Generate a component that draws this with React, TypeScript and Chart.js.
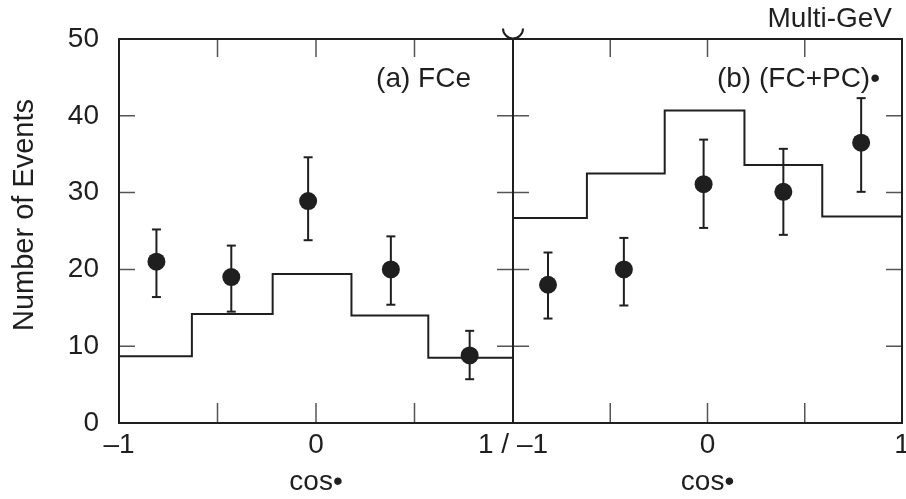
import React, { useEffect, useRef } from "react";
import { Chart, registerables } from "chart.js";

Chart.register(...registerables);

const FONT_FAMILY = '"Liberation Sans", Arial, Helvetica, sans-serif';
const FONT_SIZE = 28;
const Y_TITLE_SIZE = 29;
const INK = "#1f1f1f";
const TICK_INK = "#555555";

// Shared axes
const Y_TICKS = [0, 10, 20, 30, 40, 50];
const X_TICKS = [-1, -0.5, 0, 0.5, 1];
const X_INNER_TICKS = [-0.5, 0, 0.5];
const X_TITLE = "cos•";
const Y_TITLE = "Number of Events";

// Panel (a): FC e-like, Multi-GeV
const A_EDGES = [-1, -0.63, -0.22, 0.18, 0.57, 1];
const A_MC = [8.7, 14.2, 19.4, 14.0, 8.5];
const A_X = [-0.81, -0.43, -0.04, 0.38, 0.78];
const A_DATA = [21.0, 19.0, 28.9, 20.0, 8.8];
const A_LO = [16.4, 14.5, 23.8, 15.4, 5.7];
const A_HI = [25.2, 23.1, 34.6, 24.3, 12.0];
const A_XLABELS: Record<string, string> = { "-1": "–1", "0": "0", "1": "1 / –1" };

// Panel (b): FC+PC mu-like, Multi-GeV
const B_EDGES = [-1, -0.62, -0.22, 0.19, 0.59, 1];
const B_MC = [26.7, 32.5, 40.7, 33.6, 26.9];
const B_X = [-0.82, -0.43, -0.02, 0.39, 0.79];
const B_DATA = [18.0, 20.0, 31.1, 30.1, 36.5];
const B_LO = [13.6, 15.3, 25.4, 24.5, 30.1];
const B_HI = [22.2, 24.1, 36.9, 35.7, 42.3];
const B_XLABELS: Record<string, string> = { "0": "0", "1": "1" };

type TextItem = { t: string; x: number; y: number; align: CanvasTextAlign; rot?: boolean; size?: number };

// Frame, inward tick marks and free-standing labels for one panel
const panelDecor = {
  id: "panelDecor",
  afterDatasetsDraw(chart: any, _args: any, opts: any) {
    const { ctx, chartArea: a, scales } = chart;
    const xs = scales.x;
    const ys = scales.y;
    const off = opts.offsetX || 0;
    ctx.save();

    ctx.strokeStyle = TICK_INK;
    ctx.lineWidth = 1.5;
    ctx.beginPath();
    for (const v of Y_TICKS) {
      const py = ys.getPixelForValue(v);
      ctx.moveTo(a.left, py);
      ctx.lineTo(a.left + 16, py);
      ctx.moveTo(a.right - 16, py);
      ctx.lineTo(a.right, py);
    }
    for (const v of X_INNER_TICKS) {
      const px = xs.getPixelForValue(v);
      ctx.moveTo(px, a.bottom);
      ctx.lineTo(px, a.bottom - 20);
      ctx.moveTo(px, a.top);
      ctx.lineTo(px, a.top + 18);
    }
    ctx.stroke();

    ctx.strokeStyle = INK;
    ctx.lineWidth = 2;
    ctx.strokeRect(a.left, a.top, a.right - a.left, a.bottom - a.top);

    if (opts.arc) {
      ctx.beginPath();
      ctx.arc(opts.arc.x - off, opts.arc.y, opts.arc.r, 0, Math.PI);
      ctx.stroke();
    }

    ctx.fillStyle = INK;
    ctx.textBaseline = "alphabetic";
    for (const item of (opts.texts || []) as TextItem[]) {
      ctx.save();
      ctx.font = `${item.size || FONT_SIZE}px ${FONT_FAMILY}`;
      ctx.translate(item.x - off, item.y);
      if (item.rot) ctx.rotate(-Math.PI / 2);
      ctx.textAlign = item.align;
      ctx.fillText(item.t, 0, 0);
      ctx.restore();
    }
    ctx.restore();
  },
};

function buildConfig(
  edges: number[],
  mc: number[],
  px: number[],
  py: number[],
  lo: number[],
  hi: number[],
  xLabels: Record<string, string>,
  showY: boolean,
  padding: { left: number; right: number; top: number; bottom: number },
  decor: any
): any {
  const histogram = edges.map((x, i) => ({ x, y: mc[Math.min(i, mc.length - 1)] }));
  const points = px.map((x, i) => ({ x, y: py[i] }));
  const errorBars = px.flatMap((x, i) => [
    { x, y: lo[i] },
    { x, y: hi[i] },
    { x, y: null },
  ]);
  const font = { family: FONT_FAMILY, size: FONT_SIZE };

  return {
    type: "line",
    data: {
      datasets: [
        {
          label: "data",
          data: points,
          showLine: false,
          pointStyle: "circle",
          pointRadius: 9,
          pointHoverRadius: 9,
          pointBackgroundColor: INK,
          pointBorderWidth: 0,
        },
        {
          label: "errors",
          data: errorBars,
          borderColor: INK,
          borderWidth: 2,
          spanGaps: false,
          pointStyle: "line",
          pointRadius: 4.5,
          pointHoverRadius: 4.5,
          pointBorderColor: INK,
          pointBorderWidth: 2,
        },
        {
          label: "expected",
          data: histogram,
          stepped: "before",
          borderColor: INK,
          borderWidth: 2,
          pointRadius: 0,
          fill: false,
        },
      ],
    },
    options: {
      responsive: false,
      animation: false,
      events: [],
      layout: { autoPadding: false, padding },
      plugins: {
        legend: { display: false },
        tooltip: { enabled: false },
        panelDecor: decor,
      },
      scales: {
        x: {
          type: "linear",
          min: -1,
          max: 1,
          afterBuildTicks: (s: any) => {
            s.ticks = X_TICKS.map((value) => ({ value }));
          },
          afterFit: (s: any) => {
            s.height = 76;
          },
          grid: { display: false, drawTicks: false },
          border: { display: false },
          ticks: {
            autoSkip: false,
            maxRotation: 0,
            minRotation: 0,
            padding: 5,
            color: INK,
            font,
            callback: (v: number) => xLabels[String(v)] ?? "",
          },
          title: {
            display: true,
            text: X_TITLE,
            color: INK,
            font,
            padding: { top: 0, bottom: 0 },
          },
        },
        y: {
          type: "linear",
          display: showY,
          min: 0,
          max: 50,
          afterFit: (s: any) => {
            s.width = showY ? 119 : 0;
          },
          grid: { display: false, drawTicks: false },
          border: { display: false },
          ticks: { stepSize: 10, padding: 20, color: INK, font },
        },
      },
    },
    plugins: [panelDecor],
  };
}

export default function App() {
  const leftRef = useRef<HTMLCanvasElement>(null);
  const rightRef = useRef<HTMLCanvasElement>(null);

  useEffect(() => {
    const left = new Chart(
      leftRef.current!,
      buildConfig(
        A_EDGES, A_MC, A_X, A_DATA, A_LO, A_HI, A_XLABELS, true,
        { left: 0, right: 47, top: 39, bottom: 0 },
        {
          offsetX: 0,
          arc: { x: 513, y: 28.5, r: 10 },
          texts: [
            { t: Y_TITLE, x: 33, y: 215, align: "center", rot: true, size: Y_TITLE_SIZE },
            { t: "(a) FCe", x: 471, y: 87, align: "right" },
          ],
        }
      )
    );
    const right = new Chart(
      rightRef.current!,
      buildConfig(
        B_EDGES, B_MC, B_X, B_DATA, B_LO, B_HI, B_XLABELS, false,
        { left: 13, right: 18, top: 39, bottom: 0 },
        {
          offsetX: 500,
          texts: [
            { t: "(b) (FC+PC)•", x: 880, y: 87, align: "right" },
            { t: "Multi-GeV", x: 892, y: 27, align: "right" },
          ],
        }
      )
    );
    return () => {
      left.destroy();
      right.destroy();
    };
  }, []);

  return (
    <div
      style={{
        position: "absolute",
        left: 0,
        top: 0,
        width: 906,
        height: 499,
        background: "#ffffff",
        overflow: "hidden",
      }}
    >
      <canvas ref={leftRef} width={560} height={499} style={{ position: "absolute", left: 0, top: 0 }} />
      <canvas ref={rightRef} width={420} height={499} style={{ position: "absolute", left: 500, top: 0 }} />
    </div>
  );
}
